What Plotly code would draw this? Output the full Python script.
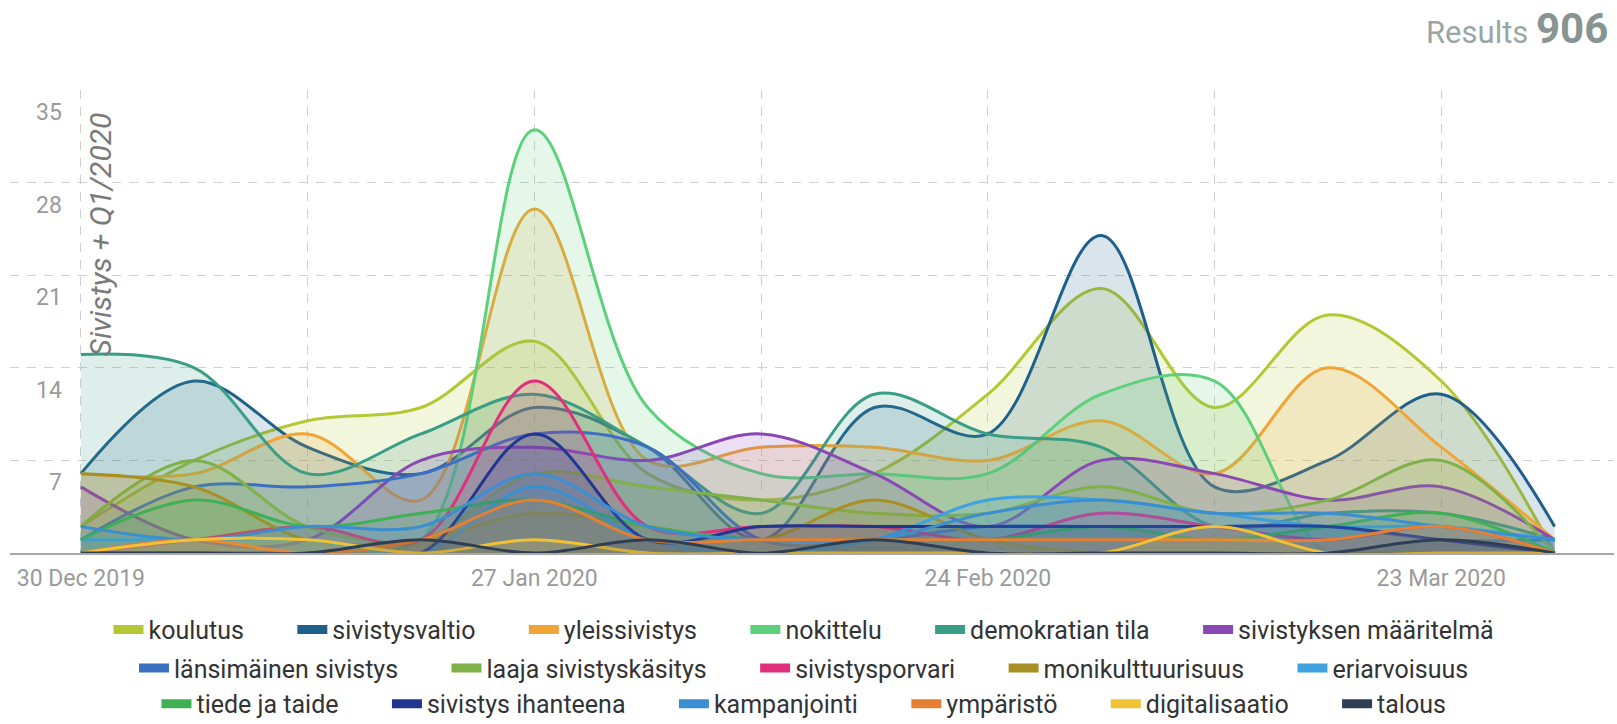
import plotly.graph_objects as go

# Weekly buckets (week starting Monday)
weeks = ["2019-12-30", "2020-01-06", "2020-01-13", "2020-01-20", "2020-01-27",
         "2020-02-03", "2020-02-10", "2020-02-17", "2020-02-24", "2020-03-02",
         "2020-03-09", "2020-03-16", "2020-03-23", "2020-03-30"]

topics = ["koulutus", "sivistysvaltio", "yleissivistys", "nokittelu",
          "demokratian tila", "sivistyksen määritelmä", "länsimäinen sivistys",
          "laaja sivistyskäsitys", "sivistysporvari", "monikulttuurisuus",
          "eriarvoisuus", "tiede ja taide", "sivistys ihanteena", "kampanjointi",
          "ympäristö", "digitalisaatio", "talous"]

koulutus = [2, 7, 10, 11, 16, 6, 4, 6, 12, 20, 11, 18, 13, 0]
sivistysvaltio = [6, 13, 8, 6, 11, 8, 1, 11, 9, 24, 5, 7, 12, 2]
yleissivistys = [6, 6, 9, 4, 26, 7, 8, 8, 7, 10, 6, 14, 8, 1]
nokittelu = [0, 1, 1, 1, 32, 11, 6, 6, 6, 12, 13, 0, 0, 0]
demokratian_tila = [15, 14, 6, 9, 12, 8, 3, 12, 9, 8, 2, 3, 3, 1]
sivistyksen_maaritelma = [5, 1, 1, 7, 8, 7, 9, 6, 2, 7, 6, 4, 5, 1]
lansimainen_sivistys = [1, 5, 5, 6, 9, 8, 1, 1, 2, 2, 2, 2, 1, 1]
laaja_sivistyskasitys = [2, 7, 2, 1, 6, 5, 4, 3, 3, 5, 3, 4, 7, 0]
sivistysporvari = [0, 1, 2, 1, 13, 2, 2, 2, 1, 3, 2, 1, 2, 0]
monikulttuurisuus = [6, 5, 1, 1, 3, 2, 1, 4, 1, 0, 0, 0, 0, 0]
eriarvoisuus = [1, 1, 1, 0, 5, 1, 0, 1, 4, 4, 3, 2, 2, 1]
tiede_ja_taide = [1, 4, 2, 3, 4, 2, 1, 1, 1, 2, 1, 2, 3, 0]
sivistys_ihanteena = [0, 0, 0, 0, 9, 1, 2, 2, 2, 2, 2, 2, 1, 0]
kampanjointi = [2, 1, 2, 2, 6, 2, 1, 1, 3, 4, 3, 3, 2, 1]
ymparisto = [0, 1, 0, 1, 4, 1, 1, 1, 1, 1, 1, 1, 2, 0]
digitalisaatio = [0, 1, 1, 0, 1, 0, 0, 0, 0, 0, 2, 0, 0, 0]
talous = [0, 0, 0, 1, 0, 1, 0, 1, 0, 0, 0, 0, 1, 0]

y_ticks = [7, 14, 21, 28, 35]
results_total = 906

values = [koulutus, sivistysvaltio, yleissivistys, nokittelu, demokratian_tila,
          sivistyksen_maaritelma, lansimainen_sivistys, laaja_sivistyskasitys,
          sivistysporvari, monikulttuurisuus, eriarvoisuus, tiede_ja_taide,
          sivistys_ihanteena, kampanjointi, ymparisto, digitalisaatio, talous]

colors = ["#b3c832", "#1f5f8b", "#f0a535", "#5dd07c", "#3a9d85", "#8a48b5",
          "#3b6fc2", "#7fb04a", "#e02f7d", "#a88f23", "#3fa2e0", "#40b055",
          "#20368f", "#3b8fd0", "#e57f32", "#f2c236", "#2e3f55"]

# legend rows: first 6, next 5, last 6
row_of = [0] * 6 + [1] * 5 + [2] * 6
legend_ids = ["legend", "legend2", "legend3"]
legend_rows_y = [-0.166, -0.249, -0.326]


def rgba(hex_color, alpha):
    h = hex_color.lstrip("#")
    r, g, b = int(h[0:2], 16), int(h[2:4], 16), int(h[4:6], 16)
    return f"rgba({r},{g},{b},{alpha})"


FONT = "Roboto"
PAD = "\u00a0" * 7

fig = go.Figure()

# filled smoothed areas, one per topic
for name, vals, col in zip(topics, values, colors):
    fig.add_trace(go.Scatter(
        x=weeks, y=vals, name=name, mode="lines",
        line=dict(color=col, width=3, shape="spline", smoothing=1.0),
        fill="tozeroy", fillcolor=rgba(col, 0.17),
        legendgroup=name, showlegend=False,
        hovertemplate="%{x|%d %b %Y}: %{y}<extra>" + name + "</extra>",
    ))

# solid legend swatches, grouped with their areas
for i, (name, col) in enumerate(zip(topics, colors)):
    row = row_of[i]
    last_in_row = (i == len(row_of) - 1) or (row_of[i + 1] != row)
    fig.add_trace(go.Scatter(
        x=[None], y=[None], mode="lines",
        line=dict(color=col, width=9),
        name=name + ("" if last_in_row else PAD),
        legendgroup=name, legend=legend_ids[row], showlegend=True,
    ))

grid_color = "#cfcfcf"
grid_dash = "9px,8px"

legend_common = dict(
    orientation="h", xanchor="center", yanchor="middle", x=0.495,
    font=dict(family=FONT, size=25, color="#333333"),
    bgcolor="rgba(0,0,0,0)", itemwidth=30, itemclick=False, itemdoubleclick=False,
    borderwidth=0, tracegroupgap=0,
)

fig.update_layout(
    width=1617, height=724,
    margin=dict(l=10, r=3, t=90, b=171, autoexpand=False),
    paper_bgcolor="white", plot_bgcolor="white",
    font=dict(family=FONT, color="#999999"),
    xaxis=dict(
        type="date",
        range=["2019-12-25 15:00", "2020-04-02 16:00"],
        tick0="2019-12-30", dtick=28 * 86400000,
        tickformat="%-d %b %Y",
        tickfont=dict(family=FONT, size=23, color="#9a9a9a"),
        ticks="", ticklabelstandoff=3,
        showgrid=True, gridcolor=grid_color, griddash=grid_dash, gridwidth=1,
        minor=dict(dtick=14 * 86400000, tick0="2019-12-30", showgrid=True,
                   gridcolor=grid_color, griddash=grid_dash, gridwidth=1),
        showline=True, linecolor="#a8a8a8", linewidth=2,
        zeroline=False, fixedrange=True, automargin=False,
    ),
    yaxis=dict(
        range=[0, 35], tickvals=y_ticks, ticktext=[str(v) for v in y_ticks],
        anchor="free", position=0.0324, side="left",
        tickfont=dict(family=FONT, size=23, color="#9a9a9a"),
        ticks="", ticklabelshift=22,
        showgrid=True, gridcolor=grid_color, griddash=grid_dash, gridwidth=1,
        zeroline=False, showline=False, fixedrange=True, automargin=False,
    ),
    legend=dict(legend_common, y=legend_rows_y[0]),
    legend2=dict(legend_common, y=legend_rows_y[1]),
    legend3=dict(legend_common, y=legend_rows_y[2]),
    showlegend=True,
    annotations=[
        dict(
            text="Sivistys + Q1/2020", textangle=-90,
            xref="paper", yref="paper", x=0.0567, y=0.688,
            xanchor="center", yanchor="middle", showarrow=False,
            font=dict(family=FONT, size=30, color="#7a7a7a", style="italic"),
        ),
        dict(
            text=("Results <span style='font-size:42px;font-weight:bold;color:#869592'>"
                  + str(results_total) + "</span>"),
            xref="paper", yref="paper", x=0.9975, y=1.132,
            xanchor="right", yanchor="middle", showarrow=False,
            font=dict(family=FONT, size=31, color="#9aa6a4"),
        ),
    ],
)

fig.write_html("out.html")
